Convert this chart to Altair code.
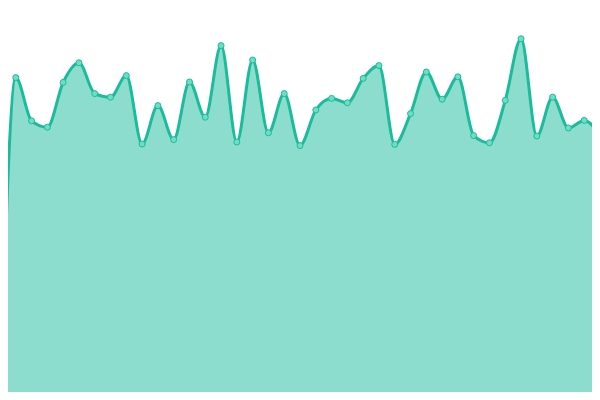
import altair as alt
import pandas as pd

idx = list(range(39))
values = [0.5, 80.6, 69.8, 68.2, 79.4, 84.3, 76.6, 75.7, 81.1, 64.0,
          73.6, 65.1, 79.5, 70.7, 88.6, 64.5, 85.0, 66.8, 76.6, 63.6,
          72.5, 75.4, 74.3, 80.4, 83.6, 63.9, 71.6, 82.0, 75.2, 80.8,
          66.1, 64.3, 74.9, 90.3, 66.0, 75.7, 68.0, 69.9, 66.3]

df = pd.DataFrame({"i": idx, "v": values})

xs = alt.Scale(domain=[0, 38], range=[-8, 592], nice=False, zero=False)
ys = alt.Scale(domain=[0, 100], range=[392, -8], nice=False, zero=False)

base = alt.Chart(df).encode(
    x=alt.X("i:Q", scale=xs, axis=None),
    y=alt.Y("v:Q", scale=ys, axis=None),
)

area = base.mark_area(interpolate="monotone", color="#1abc9c", opacity=0.5)
line = base.mark_line(interpolate="monotone", color="#1abc9c", strokeWidth=3)
pts = base.mark_point(filled=True, fill="#6fdcc4", stroke="#1abc9c",
                      strokeWidth=1, size=36, opacity=1)

chart = (area + line + pts).properties(
    width=584, height=384, padding=0, autosize="none"
).configure_view(stroke=None)

chart.save("out.html", embed_options={"renderer": "svg", "actions": False})
